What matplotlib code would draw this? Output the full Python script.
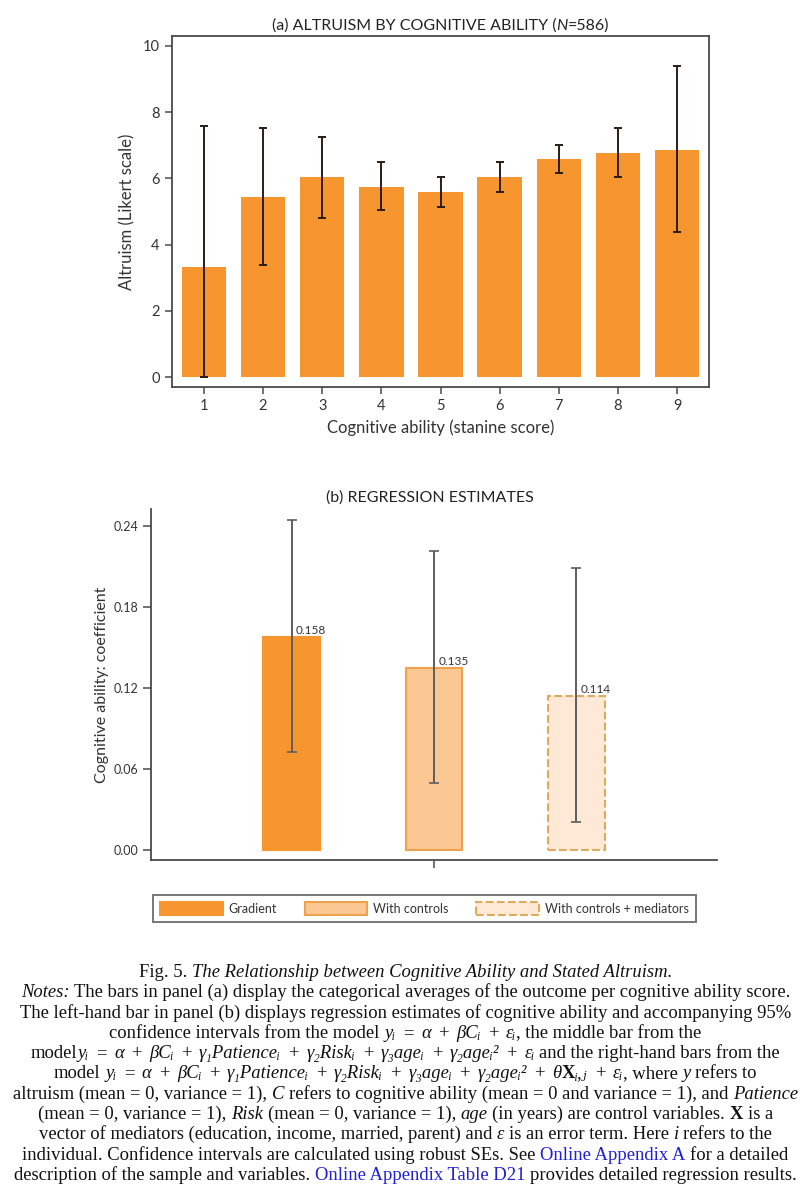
import matplotlib
matplotlib.use("Agg")
import matplotlib.pyplot as plt
from matplotlib.patches import Patch
import numpy as np

# ---------------- data ----------------
stanine = [1, 2, 3, 4, 5, 6, 7, 8, 9]
altruism_mean = [3.32, 5.44, 6.04, 5.75, 5.58, 6.04, 6.58, 6.77, 6.86]
altruism_ci_low = [0.0, 3.38, 4.81, 5.04, 5.13, 5.60, 6.17, 6.05, 4.37]
altruism_ci_high = [7.59, 7.52, 7.26, 6.49, 6.05, 6.49, 7.01, 7.52, 9.38]
y_ticks_a = [0, 2, 4, 6, 8, 10]

models = ["Gradient", "With controls", "With controls + mediators"]
coef = [0.158, 0.135, 0.114]
coef_ci_low = [0.0726, 0.0496, 0.0207]
coef_ci_high = [0.245, 0.2215, 0.2089]
y_ticks_b = [0.00, 0.06, 0.12, 0.18, 0.24]

# ---------------- style ----------------
plt.rcParams["font.family"] = ["Lato", "DejaVu Sans"]

ORANGE = "#F7962F"
LIGHT = "#FBC894"
LIGHT_EDGE = "#EFA24E"
PALE = "#FDE9D5"
PALE_EDGE = "#DFAA5E"
SPINE = "#4a4a4a"
TXT = "#333333"

W, H = 811, 1200
fig = plt.figure(figsize=(W / 100, H / 100), dpi=100)


def fx(px):
    return px / W


def fy(py):
    return 1 - py / H


# ---------------- panel (a) ----------------
axa = fig.add_axes([fx(172), fy(387), fx(709) - fx(172), fy(36) - fy(387)])
x = np.array(stanine)
m = np.array(altruism_mean)
axa.bar(x, m, width=0.75, color=ORANGE, edgecolor="none", zorder=2)
axa.errorbar(x, m, yerr=[m - np.array(altruism_ci_low), np.array(altruism_ci_high) - m],
             fmt="none", ecolor="#2a1c12", elinewidth=1.4, capsize=3, capthick=1.4, zorder=3)
axa.set_xlim(0.46, 9.54)
axa.set_ylim(-0.3, 10.3)
axa.set_xticks(stanine)
axa.set_yticks(y_ticks_a)
axa.set_yticklabels([str(v) for v in y_ticks_a])
for s in axa.spines.values():
    s.set_color(SPINE)
    s.set_linewidth(1.3)
axa.tick_params(axis="both", direction="out", length=5, width=1.1, color=SPINE,
                labelsize=10.5, labelcolor=TXT, pad=4)
axa.set_ylabel("Altruism (Likert scale)", fontsize=12, color=TXT, labelpad=5)
axa.set_xlabel("Cognitive ability (stanine score)", fontsize=12, color=TXT, labelpad=4)

# ---------------- panel (b) ----------------
axb = fig.add_axes([fx(151), fy(860), fx(717) - fx(151), fy(509) - fy(860)])
pos = np.arange(len(models))
c = np.array(coef)
faces = [ORANGE, LIGHT, PALE]
edges = [ORANGE, LIGHT_EDGE, PALE_EDGE]
styles = ["-", "-", "--"]
for i in range(len(models)):
    axb.bar(pos[i], c[i], width=0.40, color=faces[i], edgecolor=edges[i],
            linewidth=1.5, linestyle=styles[i], zorder=2)
    axb.text(pos[i] + 0.03, c[i] + 0.001, f"{coef[i]:.3f}", fontsize=8.5,
             color=TXT, ha="left", va="bottom", zorder=4)
axb.errorbar(pos, c, yerr=[c - np.array(coef_ci_low), np.array(coef_ci_high) - c],
             fmt="none", ecolor="#5e5e5e", elinewidth=1.4, capsize=3.5, capthick=1.2, zorder=3)
axb.set_xlim(-0.99, 2.99)
axb.set_ylim(-0.0074, 0.2528)
axb.set_xticks([1])
axb.set_xticklabels([""])
axb.set_yticks(y_ticks_b)
axb.set_yticklabels([f"{v:.2f}" for v in y_ticks_b])
axb.spines["top"].set_visible(False)
axb.spines["right"].set_visible(False)
for s in ["left", "bottom"]:
    axb.spines[s].set_color(SPINE)
    axb.spines[s].set_linewidth(1.3)
axb.tick_params(axis="both", direction="out", length=6, width=1.1, color=SPINE,
                labelsize=9, labelcolor=TXT, pad=3)
axb.set_ylabel("Cognitive ability: coefficient", fontsize=11.5, color=TXT, labelpad=3)

handles = [Patch(facecolor=faces[i], edgecolor=edges[i], linestyle=styles[i], linewidth=1.5)
           for i in range(len(models))]
leg = fig.legend(handles, models, loc="upper left", ncol=3,
                 bbox_to_anchor=(fx(153), fy(895)),
                 fontsize=9, frameon=True, fancybox=False, handlelength=5.0,
                 handleheight=1.28, handletextpad=0.5, borderpad=0.56,
                 columnspacing=2.2, borderaxespad=0)
leg.get_frame().set_edgecolor("#555555")
leg.get_frame().set_linewidth(1.4)
for t in leg.get_texts():
    t.set_color(TXT)

# ---------------- helper for mixed-style lines ----------------
renderer = fig.canvas.get_renderer()
BLUE = "#1f1fd6"


def parse_markup(s):
    """*...* italic, #...# bold, [...] blue link, ~ wide space."""
    runs = []
    it = bold = blue = False
    buf = ""

    def flush():
        nonlocal buf
        if buf:
            if runs and runs[-1][1] == (it, bold, blue):
                runs[-1] = (runs[-1][0] + buf, runs[-1][1])
            else:
                runs.append((buf, (it, bold, blue)))
        buf = ""

    for ch in s:
        if ch == "*":
            flush(); it = not it
        elif ch == "#":
            flush(); bold = not bold
        elif ch == "[":
            flush(); blue = True
        elif ch == "]":
            flush(); blue = False
        elif ch == "~":
            flush(); runs.append(("~", None))
        else:
            buf += ch
    flush()
    return runs


def space_width(base):
    p1 = fig.text(0, 0, "a a", **base)
    p2 = fig.text(0, 0, "aa", **base)
    w = p1.get_window_extent(renderer).width - p2.get_window_extent(renderer).width
    p1.remove()
    p2.remove()
    return w


def draw_markup(y, s, xc, base, default_color, wide=1.6):
    sp = space_width(base)
    items = []
    total = 0.0
    for txt, st in parse_markup(s):
        if st is None:
            items.append((None, wide * sp))
            total += wide * sp
            continue
        it, bold, blue = st
        stripped = txt.strip(" ")
        lead = len(txt) - len(txt.lstrip(" "))
        trail = len(txt) - len(txt.rstrip(" "))
        total += lead * sp
        items.append((None, lead * sp))
        if stripped:
            k = dict(base)
            k["style"] = "italic" if it else "normal"
            k["weight"] = "bold" if bold else "normal"
            k["color"] = BLUE if blue else default_color
            t = fig.text(0, y, stripped, ha="left", va="baseline", **k)
            w = t.get_window_extent(renderer).width
            items.append((t, w))
            total += w
        items.append((None, trail * sp))
        total += trail * sp
    x0 = xc - total / 2
    for t, w in items:
        if t is not None:
            t.set_x(x0 / W)
        x0 += w
    return total


# titles
tfont = dict(fontsize=11.5, family=["Lato", "DejaVu Sans"])
draw_markup(fy(30), "(a) ALTRUISM BY COGNITIVE ABILITY (*N*=586)", (172 + 709) / 2, tfont, "#222222")
draw_markup(fy(502), "(b) REGRESSION ESTIMATES", (151 + 717) / 2 - 4, tfont, "#222222")

# caption
cfont = dict(fontsize=13.4, family=["Liberation Serif", "DejaVu Serif"])
caption_lines = [
    "Fig. 5. *The Relationship between Cognitive Ability and Stated Altruism.*",
    "*Notes:* The bars in panel (a) display the categorical averages of the outcome per cognitive ability score.",
    "The left-hand bar in panel (b) displays regression estimates of cognitive ability and accompanying 95%",
    "confidence intervals from the model *y\u1d62*~=~*\u03b1*~+~*\u03b2C\u1d62*~+~*\u03b5\u1d62*, the middle bar from the",
    "model*y\u1d62*~=~*\u03b1*~+~*\u03b2C\u1d62*~+~*\u03b3\u2081Patience\u1d62*~+~*\u03b3\u2082Risk\u1d62*~+~*\u03b3\u2083age\u1d62*"
    "~+~*\u03b3\u2082age\u1d62\u00b2*~+~*\u03b5\u1d62* and the right-hand bars from the",
    "model *y\u1d62*~=~*\u03b1*~+~*\u03b2C\u1d62*~+~*\u03b3\u2081Patience\u1d62*~+~*\u03b3\u2082Risk\u1d62*~+~*\u03b3\u2083age\u1d62*"
    "~+~*\u03b3\u2082age\u1d62\u00b2*~+~*\u03b8*#X#*\u1d62,\u2c7c*~+~*\u03b5\u1d62*, where *y* refers to",
    "altruism (mean = 0, variance = 1), *C* refers to cognitive ability (mean = 0 and variance = 1), and *Patience*",
    "(mean = 0, variance = 1), *Risk* (mean = 0, variance = 1), *age* (in years) are control variables. #X# is a",
    "vector of mediators (education, income, married, parent) and *\u03b5* is an error term. Here *i* refers to the",
    "individual. Confidence intervals are calculated using robust SEs. See [Online Appendix A] for a detailed",
    "description of the sample and variables. [Online Appendix Table D21] provides detailed regression results.",
]
y0 = 977
for i, s in enumerate(caption_lines):
    draw_markup(fy(y0 + i * 20.3), s, W / 2, cfont, "#111111")

fig.savefig("out.png", dpi=100)
